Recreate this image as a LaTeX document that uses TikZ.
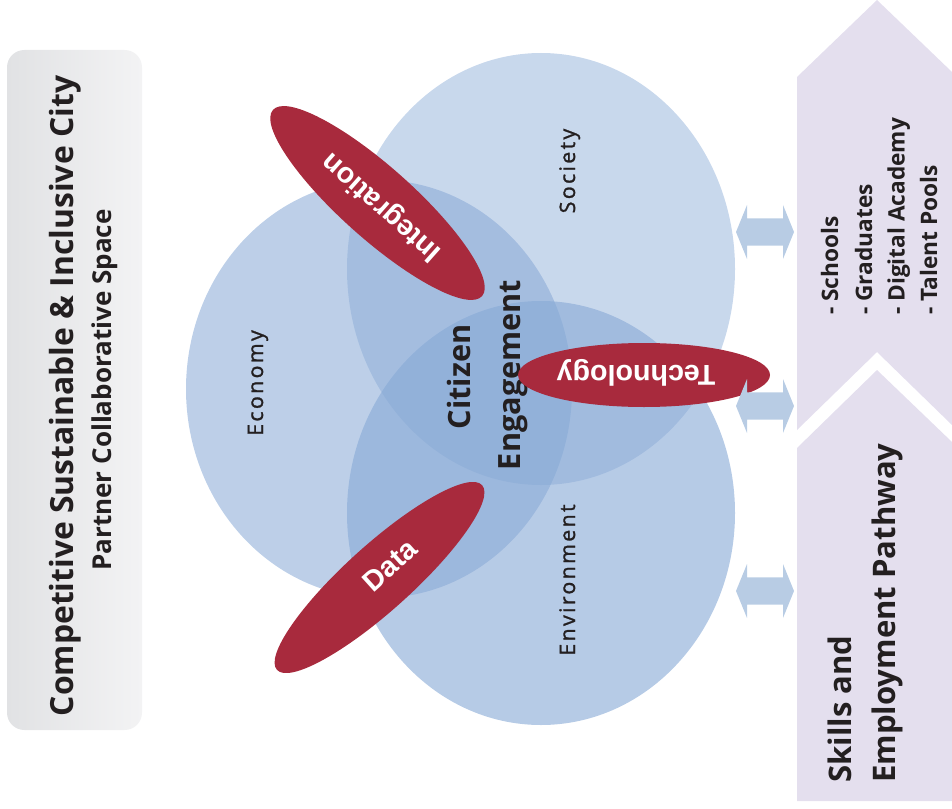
\documentclass[tikz,border=0pt]{standalone}
\usepackage{fontspec}
\setmainfont{Open Sans}
\newfontfamily\trackfont{Open Sans}[LetterSpace=11,FakeBold=1.2]
\newfontfamily\arialfont{Liberation Sans}
\usetikzlibrary{shapes.geometric}
\definecolor{panelL}{HTML}{E1E2E4}
\definecolor{panelR}{HTML}{F3F3F4}
\definecolor{circblue}{HTML}{86A8D5}
\definecolor{redfill}{HTML}{A82A3D}
\definecolor{arrowblue}{HTML}{B8CCE4}
\definecolor{lav}{HTML}{E4DFEE}
\definecolor{ink}{HTML}{231F20}
\begin{document}
\begin{tikzpicture}[x=0.75pt,y=-0.75pt,
  bubble/.style={ellipse, fill=circblue, draw=none, inner sep=0pt},
  redell/.style={ellipse, fill=redfill, draw=none, inner sep=0pt},
  redtext/.style={text=white, font=\arialfont\bfseries\fontsize{21.5}{21.5}\selectfont, inner sep=0pt},
  circlabel/.style={text=ink, font=\trackfont\fontsize{16}{16}\selectfont, rotate=90, anchor=base, inner sep=0pt},
  vtext/.style={text=ink, rotate=90, inner sep=0pt},
  dblarrow/.style={fill=arrowblue, draw=none}]
\useasboundingbox (0,0) rectangle (952,809);

% left panel
\node[left color=panelL, right color=panelR, rounded corners=13pt, minimum width=101.25pt, minimum height=510pt, inner sep=0pt] (panel) at (74.5,390) {};
\node[vtext, anchor=base, font=\bfseries\fontsize{23.9}{23.9}\selectfont] (title) at (73,396) {Competitive Sustainable \& Inclusive City};
\node[vtext, anchor=base, font=\bfseries\fontsize{19.5}{19.5}\selectfont] (subtitle) at (111,390) {Partner Collaborative Space};

% bubbles
\node[bubble, fill opacity=0.45, minimum width=291pt, minimum height=324pt] (society) at (541,269) {};
\node[bubble, fill opacity=0.55, minimum width=289.5pt, minimum height=313.5pt] (economy) at (379,389) {};
\node[bubble, fill opacity=0.6, minimum width=291pt, minimum height=318pt] (environment) at (541,513) {};

\node[circlabel] (socl) at (575,171) {Society};
\node[circlabel] (ecol) at (263,383) {Economy};
\node[circlabel] (envl) at (575,580) {Environment};

\node[vtext, anchor=base, font=\bfseries\fontsize{23}{23}\selectfont] (citizen) at (470,377) {Citizen};
\node[vtext, anchor=base, font=\bfseries\fontsize{23}{23}\selectfont] (engage) at (520,375) {Engagement};

% red ellipses
\node[redell, rotate=-41.7, minimum width=210pt, minimum height=54pt] (integ) at (377.5,203) {};
\node[redtext, rotate=138.3] (integt) at (382,207) {Integration};
\node[redell, minimum width=189pt, minimum height=48pt] (tech) at (644,375) {};
\node[redtext, rotate=180] (techt) at (636,373) {Technology};
\node[redell, rotate=42, minimum width=207pt, minimum height=49.5pt] (data) at (379.5,577.5) {};
\node[redtext, rotate=42] (datat) at (390,565) {Data};

% double arrows
\foreach \yy/\nm in {232/a1,406/a2,591/a3}{
  \fill[dblarrow] (736,\yy) -- (747,\yy-27) -- (747,\yy-13.7) -- (783,\yy-13.7) -- (783,\yy-27)
     -- (794,\yy) -- (783,\yy+27) -- (783,\yy+13.7) -- (747,\yy+13.7) -- (747,\yy+27) -- cycle;
}

% right pathway shapes
\fill[lav] (797,77) -- (877,0) -- (952,72) -- (952,425) -- (877,352) -- (797,430) -- cycle;
\fill[lav] (797,448) -- (877,370) -- (952,442) -- (952,801) -- (797,801) -- cycle;

\node[vtext, anchor=base west, font=\bfseries\fontsize{17}{17}\selectfont] (l1) at (838,315) {- Schools};
\node[vtext, anchor=base west, font=\bfseries\fontsize{17}{17}\selectfont] (l2) at (872,315) {- Graduates};
\node[vtext, anchor=base west, font=\bfseries\fontsize{17}{17}\selectfont] (l3) at (904.5,315) {- Digital Academy};
\node[vtext, anchor=base west, font=\bfseries\fontsize{17}{17}\selectfont] (l4) at (937,315) {- Talent Pools};

\node[vtext, anchor=base west, font=\bfseries\fontsize{23.3}{23.3}\selectfont] (skills) at (851,783) {Skills and};
\node[vtext, anchor=base west, font=\bfseries\fontsize{23.3}{23.3}\selectfont] (employ) at (895,783) {Employment Pathway};
\end{tikzpicture}
\end{document}
